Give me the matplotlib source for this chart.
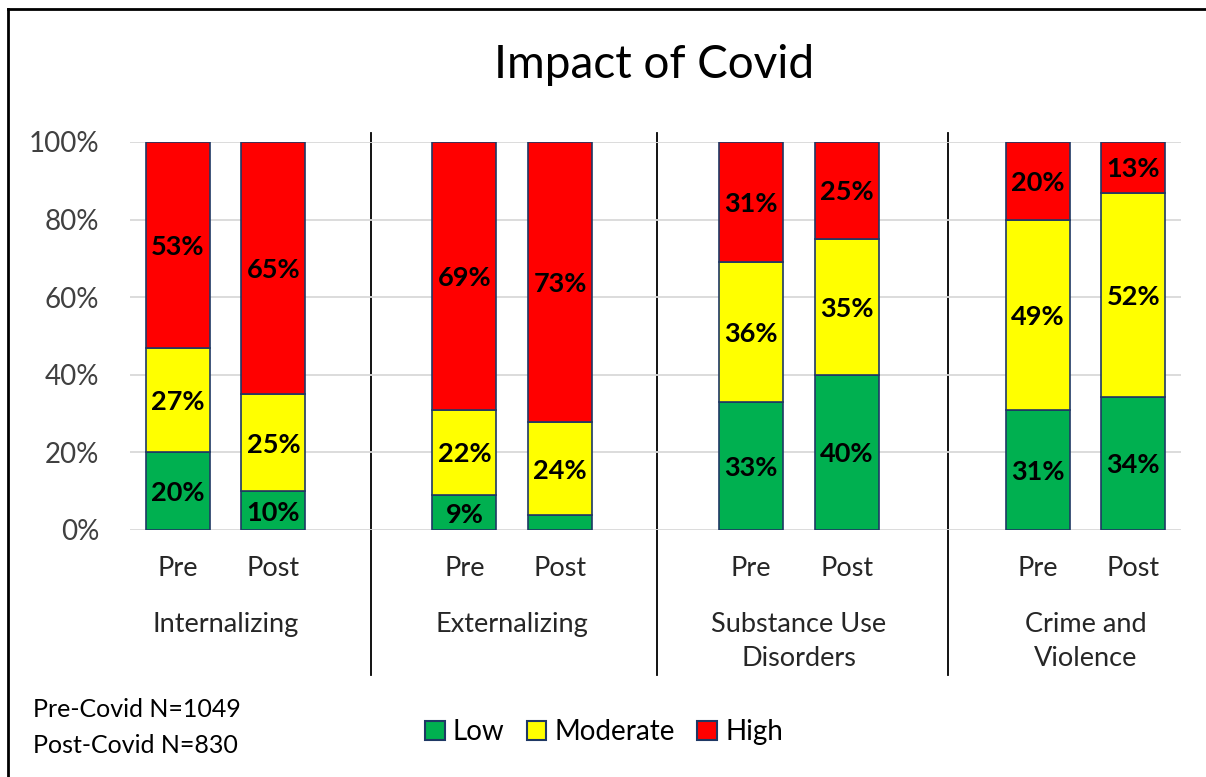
import numpy as np
import matplotlib
matplotlib.use("Agg")
import matplotlib.pyplot as plt
import matplotlib.transforms as mtransforms
from matplotlib.patches import Patch

plt.rcParams['font.family'] = ['Lato', 'DejaVu Sans']

# data
groups = ["Internalizing", "Externalizing", "Substance Use\nDisorders", "Crime and\nViolence"]
periods = ["Pre", "Post"]
low = [20, 10, 9, 4, 33, 40, 31, 34]
moderate = [27, 25, 22, 24, 36, 35, 49, 52]
high = [53, 65, 69, 73, 31, 25, 20, 13]
low_labels = ["20%", "10%", "9%", "", "33%", "40%", "31%", "34%"]
sample_note = ["Pre-Covid N=1049", "Post-Covid N=830"]

colors = {"Low": "#00B050", "Moderate": "#FFFF00", "High": "#FF0000"}
edge = "#1F3864"

W, H = 1206, 777

def fy(py):
    # pixel row -> figure fraction
    return 1 - py / H

# slot positions: two bars per group, one blank slot between groups
pos = []
for g in range(len(groups)):
    pos += [g * 3, g * 3 + 1]
pos = np.array(pos, dtype=float)

fig = plt.figure(figsize=(W / 100, H / 100), dpi=100)
ax = fig.add_axes([130 / W, fy(530), 1051 / W, 388 / H])

low_a = np.array(low, dtype=float)
mod_a = np.array(moderate, dtype=float)
high_a = np.array(high, dtype=float)
tot = low_a + mod_a + high_a
# normalise to 100% stacked
low_p = low_a / tot * 100
mod_p = mod_a / tot * 100
high_p = high_a / tot * 100

w = 0.67
lw = 1.2
ax.bar(pos, low_p, w, color=colors["Low"], edgecolor=edge, linewidth=lw, zorder=3)
ax.bar(pos, mod_p, w, bottom=low_p, color=colors["Moderate"], edgecolor=edge, linewidth=lw, zorder=3)
ax.bar(pos, high_p, w, bottom=low_p + mod_p, color=colors["High"], edgecolor=edge, linewidth=lw, zorder=3)

lab_fs = 19.5
for i, x in enumerate(pos):
    if low_labels[i]:
        ax.text(x, low_p[i] / 2, low_labels[i], ha="center", va="center_baseline",
                fontsize=lab_fs, fontweight="bold", zorder=4)
    ax.text(x, low_p[i] + mod_p[i] / 2, f"{moderate[i]}%", ha="center", va="center_baseline",
            fontsize=lab_fs, fontweight="bold", zorder=4)
    ax.text(x, low_p[i] + mod_p[i] + high_p[i] / 2, f"{high[i]}%", ha="center", va="center_baseline",
            fontsize=lab_fs, fontweight="bold", zorder=4)

ax.set_xlim(-0.5, 10.5)
ax.set_ylim(0, 100)
ax.set_yticks(np.arange(0, 101, 20))
ax.set_yticklabels([f"{v}%" for v in range(0, 101, 20)], fontsize=20, color="#404040")
ax.tick_params(axis="y", length=0, pad=22)
ax.set_xticks([])
ax.grid(axis="y", color="#D9D9D9", linewidth=1.3, zorder=0)
for s in ax.spines.values():
    s.set_visible(False)

# x labels: periods and groups (data x, figure y)
trans = mtransforms.blended_transform_factory(ax.transData, fig.transFigure)
for i, x in enumerate(pos):
    ax.text(x, fy(576), periods[i % 2], ha="center", va="baseline", fontsize=19.5,
            color="#262626", transform=trans, clip_on=False)
for g, name in enumerate(groups):
    cx = g * 3 + 0.5
    for k, line in enumerate(name.split("\n")):
        ax.text(cx, fy(632 + 34 * k), line, ha="center", va="baseline", fontsize=19.5,
                color="#262626", transform=trans, clip_on=False)

# group separators sit in the blank slot, a touch right of centre
sep_shift = [0.02, 0.02, 0.06]
for g in range(1, len(groups)):
    sx = g * 3 - 1 + sep_shift[g - 1]
    ax.plot([sx, sx], [102.4, -37.4], color="black", linewidth=1.3, clip_on=False, zorder=1)

fig.text(654 / W, fy(78), "Impact of Covid", ha="center", va="baseline", fontsize=33, color="black")

fig.text(33 / W, fy(717), sample_note[0], ha="left", va="baseline", fontsize=18, color="black")
fig.text(33 / W, fy(753), sample_note[1], ha="left", va="baseline", fontsize=18, color="black")

handles = [Patch(facecolor=colors[k], edgecolor=edge, linewidth=1.5, label=k) for k in colors]
fig.legend(handles=handles, loc="center", bbox_to_anchor=(604 / W, fy(732)), ncol=3,
           frameon=False, fontsize=20, handlelength=0.7, handleheight=0.7,
           handletextpad=0.3, columnspacing=0.8, borderpad=0, borderaxespad=0)

# chart frame (top and left edges visible)
fig.add_artist(plt.Line2D([8 / W, 8 / W], [0, fy(9)], color="black", linewidth=2))
fig.add_artist(plt.Line2D([8 / W, 1], [fy(9), fy(9)], color="black", linewidth=2))

fig.savefig("out.png", dpi=100, facecolor="white")
